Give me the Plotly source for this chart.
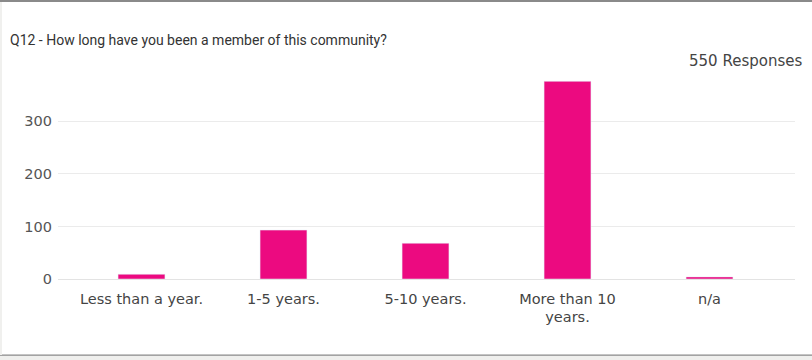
import plotly.graph_objects as go

categories = ["Less than a year.", "1-5 years.", "5-10 years.", "More than 10<br>years.", "n/a"]
counts = [9, 93, 68, 376, 4]
y_ticks = [0, 100, 200, 300]
title_text = "Q12 - How long have you been a member of this community?"
responses_text = "550 Responses"

W, H = 812, 360
L, R, T, B = 58, 17, 74, 81
PW, PH = W - L - R, H - T - B

def xp(px):
    return (px - L) / PW

def yp(py):
    return (H - B - py) / PH

fig = go.Figure(go.Bar(
    x=categories, y=counts, marker_color="#ec0a80", width=0.33,
    hoverinfo="x+y",
))

fig.update_layout(
    width=W, height=H,
    margin=dict(l=L, r=R, t=T, b=B, pad=0),
    paper_bgcolor="white", plot_bgcolor="white",
    showlegend=False,
    title=dict(text=title_text, x=10 / W, y=1 - 40 / H, xanchor="left", yanchor="middle",
               font=dict(family="Roboto", size=14, color="#333")),
    font=dict(family="DejaVu Sans", size=14, color="#555"),
)
fig.update_xaxes(range=[-0.588, 4.602], showgrid=False, showline=False, ticks="",
                 ticklabelstandoff=9,
                 tickfont=dict(family="DejaVu Sans", size=14.5, color="#444"))
fig.update_yaxes(range=[0, 390], tickvals=y_ticks, gridcolor="#ebebeb", gridwidth=1,
                 zeroline=True, zerolinecolor="#e3e3e3", zerolinewidth=1,
                 showline=False, ticks="", ticklabelstandoff=5,
                 tickfont=dict(family="DejaVu Sans", size=14.5, color="#555"))

fig.add_annotation(text=responses_text, xref="paper", yref="paper",
                   x=xp(804), y=yp(61), xanchor="right", yanchor="middle", showarrow=False,
                   font=dict(family="DejaVu Sans", size=15, color="#444"))

shapes = [
    dict(type="rect", xref="paper", yref="paper", x0=xp(0), x1=xp(W), y0=yp(0), y1=yp(2),
         fillcolor="#8a8a8a", line_width=0, layer="above"),
    dict(type="rect", xref="paper", yref="paper", x0=xp(0), x1=xp(W), y0=yp(355), y1=yp(H),
         fillcolor="#efefed", line_width=0, layer="above"),
    dict(type="rect", xref="paper", yref="paper", x0=xp(0), x1=xp(W), y0=yp(354.5), y1=yp(355.8),
         fillcolor="#8a8a8a", line_width=0, layer="above"),
    dict(type="rect", xref="paper", yref="paper", x0=xp(0), x1=xp(2), y0=yp(2), y1=yp(355),
         fillcolor="#f0f0ee", line_width=0, layer="above"),
]
fig.update_layout(shapes=shapes)

fig.write_html("out.html", config={"displayModeBar": False},
               post_script="document.body.style.margin='0';document.body.style.overflow='hidden';")
